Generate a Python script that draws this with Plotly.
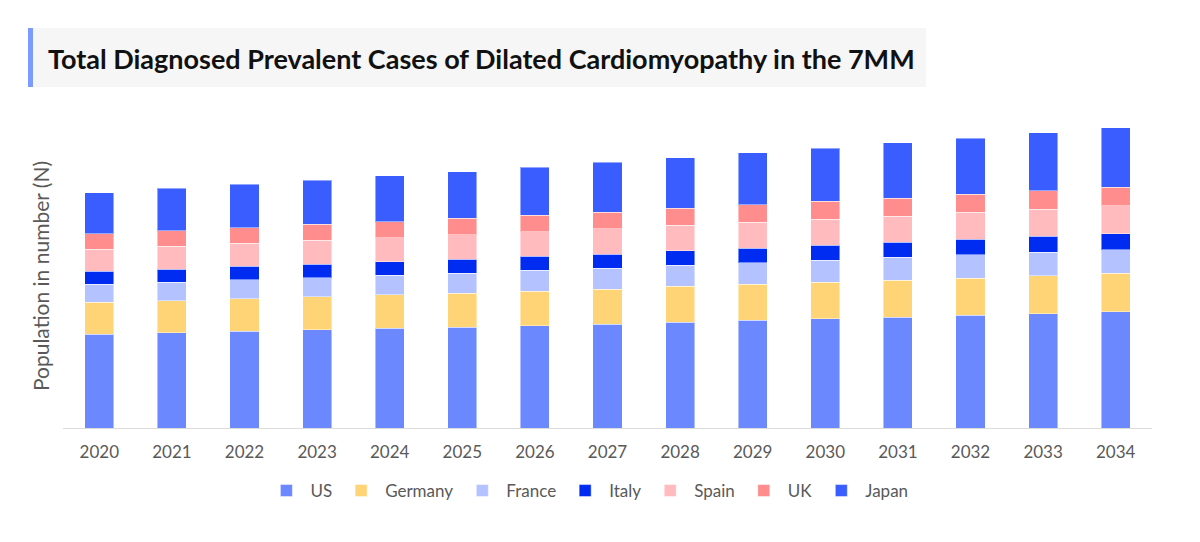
import plotly.graph_objects as go

# values (arbitrary units, the chart shows no y ticks)
years = [str(y) for y in range(2020, 2035)]
us = [94.0, 95.4, 96.7, 98.4, 99.7, 101.0, 102.3, 104.0, 106.0, 107.7, 109.4, 111.0, 112.7, 114.4, 116.4]
germany = [31.7, 32.0, 32.7, 33.0, 33.4, 33.6, 34.3, 35.0, 35.7, 36.0, 36.3, 37.0, 37.3, 38.0, 38.3]
france = [18.3, 18.6, 19.0, 19.0, 19.6, 20.4, 21.0, 21.0, 21.0, 21.7, 22.3, 22.7, 23.4, 23.6, 23.7]
italy = [13.0, 13.0, 13.3, 13.6, 13.4, 14.0, 14.0, 14.0, 14.7, 14.6, 14.7, 15.0, 15.3, 15.7, 16.0]
spain = [22.0, 22.7, 23.0, 24.0, 24.3, 24.3, 24.7, 25.3, 25.3, 25.7, 26.3, 26.3, 27.0, 27.3, 28.0]
uk = [15.4, 15.7, 15.7, 15.7, 16.0, 16.3, 16.7, 16.7, 17.3, 17.7, 17.7, 18.0, 18.3, 18.4, 18.3]
japan = [41.0, 42.3, 43.3, 44.3, 45.7, 46.7, 48.0, 49.6, 50.4, 52.0, 53.3, 55.4, 56.0, 58.0, 59.7]

series = [
    ("US", us, "#6b88ff"),
    ("Germany", germany, "#ffd477"),
    ("France", france, "#b4c3ff"),
    ("Italy", italy, "#002cf2"),
    ("Spain", spain, "#ffbbbe"),
    ("UK", uk, "#ff8d8d"),
    ("Japan", japan, "#3a5dff"),
]

fig = go.Figure()
for name, vals, col in series:
    fig.add_trace(go.Bar(x=years, y=vals, name=name,
                         marker=dict(color=col, line=dict(color="rgba(255,255,255,0.45)", width=1))))

# page has an 8px body margin, so figure coords = screen coords - 8
OFF = 8
FW, FH = 1200 - 2 * OFF, 542 - 2 * OFF
# plot area on screen: x 63..1152, y 124..428
L, T = 63 - OFF, 124 - OFF
W, H = 1152 - 63, 428 - 124
R, B = FW - L - W, FH - T - H
px = lambda v: (v - OFF - L) / W
py = lambda v: (T + H - (v - OFF)) / H

fig.update_layout(
    width=FW, height=FH,
    barmode="stack", bargap=0.6,
    plot_bgcolor="white", paper_bgcolor="white",
    margin=dict(l=L, r=R, t=T, b=B),
    font=dict(family="Lato, sans-serif", color="#595959"),
    showlegend=True,
    legend=dict(orientation="h", x=0.482, xanchor="center", y=py(491), yanchor="middle",
                font=dict(size=17, color="#595959"), traceorder="normal", itemwidth=38),
    xaxis=dict(showline=True, linecolor="#dcdcdc", linewidth=1, ticks="",
               tickfont=dict(size=17, color="#595959"), showgrid=False, ticklabelstandoff=9),
    yaxis=dict(range=[0, 304], showticklabels=False, showgrid=False, zeroline=False,
               title=dict(text="Population in number (N)", font=dict(size=21, color="#595959"), standoff=6)),
    shapes=[
        dict(type="rect", xref="paper", yref="paper", x0=px(28), x1=px(926), y0=py(87), y1=py(28),
             fillcolor="#f6f6f6", line=dict(width=0), layer="below"),
        dict(type="rect", xref="paper", yref="paper", x0=px(28), x1=px(33), y0=py(87), y1=py(28),
             fillcolor="#7b9bff", line=dict(width=0)),
    ],
    annotations=[
        dict(text="<b>Total Diagnosed Prevalent Cases of Dilated Cardiomyopathy in the 7MM</b>",
             xref="paper", yref="paper", x=px(46), y=py(58), xanchor="left", yanchor="middle",
             showarrow=False, font=dict(size=27, color="#111111", family="Lato, sans-serif")),
    ],
)

fig.write_html("out.html")
